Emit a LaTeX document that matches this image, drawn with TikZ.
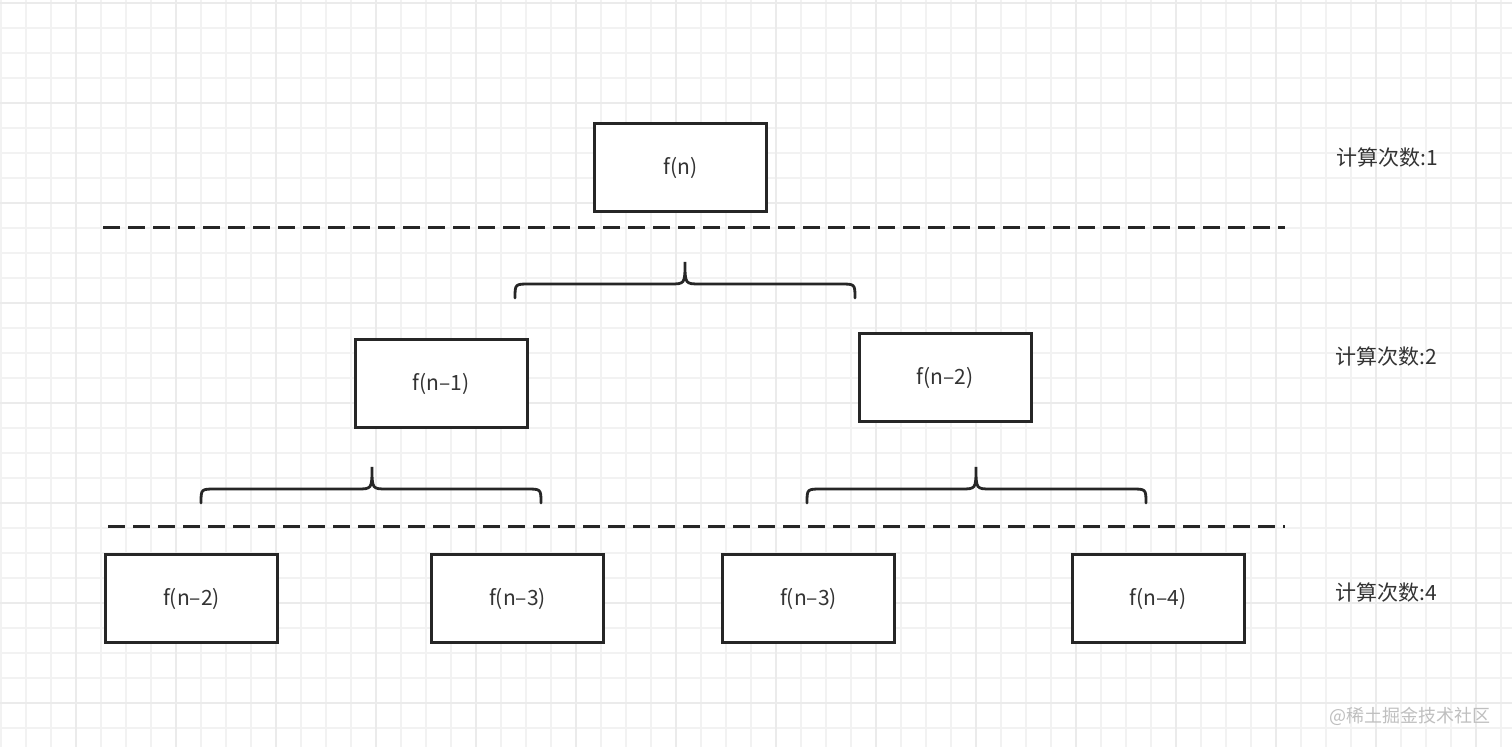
\documentclass[tikz,border=0pt]{standalone}
\usepackage{fontspec}
\setmainfont{Noto Sans CJK SC}
\tikzset{
  minorgrid/.style={draw=black!5, line width=0.6pt},
  majorgrid/.style={draw=black!8, line width=0.9pt},
  box/.style={draw=black!85, line width=1.5pt, fill=white, minimum width=86pt, minimum height=44pt, inner sep=0pt, font=\fontsize{10.5}{12}\selectfont, text=black!80},
  cnt/.style={font=\fontsize{10.5}{12}\selectfont, text=black!80, inner sep=0pt},
  sepline/.style={line width=1.5pt, draw=black!85, dash pattern=on 8.5pt off 4pt},
  bracket/.style={line width=1.4pt, draw=black!85, line cap=round},
  wmark/.style={font=\fontsize{9}{10}\selectfont, text=black!25, inner sep=0pt},
}
\newcommand\drawbrace[6]{%
  \draw[bracket] (#1,#6) .. controls (#1,#5) .. ({#1+15},#5) -- ({#2-15},#5)
    .. controls (#2,#5) .. (#2,#4) .. controls (#2,#5) .. ({#2+15},#5)
    -- ({#3-15},#5) .. controls (#3,#5) .. (#3,#6);}
\begin{document}
\begin{tikzpicture}[x=0.5pt, y=-0.5pt]
\useasboundingbox (0,0) rectangle (1512,747);
\fill[white] (0,0) rectangle (1512,747);
% grid
\foreach \x in {1,26,...,1512} \draw[minorgrid] (\x,0) -- (\x,747);
\foreach \y in {3,28,...,747} \draw[minorgrid] (0,\y) -- (1512,\y);
\foreach \x in {76,176,...,1512} \draw[majorgrid] (\x,0) -- (\x,747);
\foreach \y in {3,103,...,747} \draw[majorgrid] (0,\y) -- (1512,\y);
% boxes
\node[box] (fn)  at (680.5,167.5) {f(n)};
\node[box] (fn1) at (441,383.5) {f(n–1)};
\node[box] (fn2) at (945,377.5) {f(n–2)};
\node[box] (b1) at (191.5,598.5) {f(n–2)};
\node[box] (b2) at (517.5,598.5) {f(n–3)};
\node[box] (b3) at (808.5,598.5) {f(n–3)};
\node[box] (b4) at (1158,598.5) {f(n–4)};
% separators
\coordinate (s1a) at (103,228); \coordinate (s1b) at (1285,228);
\coordinate (s2a) at (108,527); \coordinate (s2b) at (1285,527);
\draw[sepline] (s1a) -- (s1b);
\draw[sepline] (s2a) -- (s2b);
% braces
\drawbrace{515}{685}{855}{262}{284}{298}
\drawbrace{201}{372}{541}{467}{489}{503}
\drawbrace{807}{976}{1146}{467}{489}{503}
% counts
\node[cnt] (c1) at (1387,158) {计算次数:1};
\node[cnt] (c2) at (1386,357) {计算次数:2};
\node[cnt] (c4) at (1386,593) {计算次数:4};
% watermark
\node[wmark] (wm) at (1410,716) {@稀土掘金技术社区};
\end{tikzpicture}
\end{document}
